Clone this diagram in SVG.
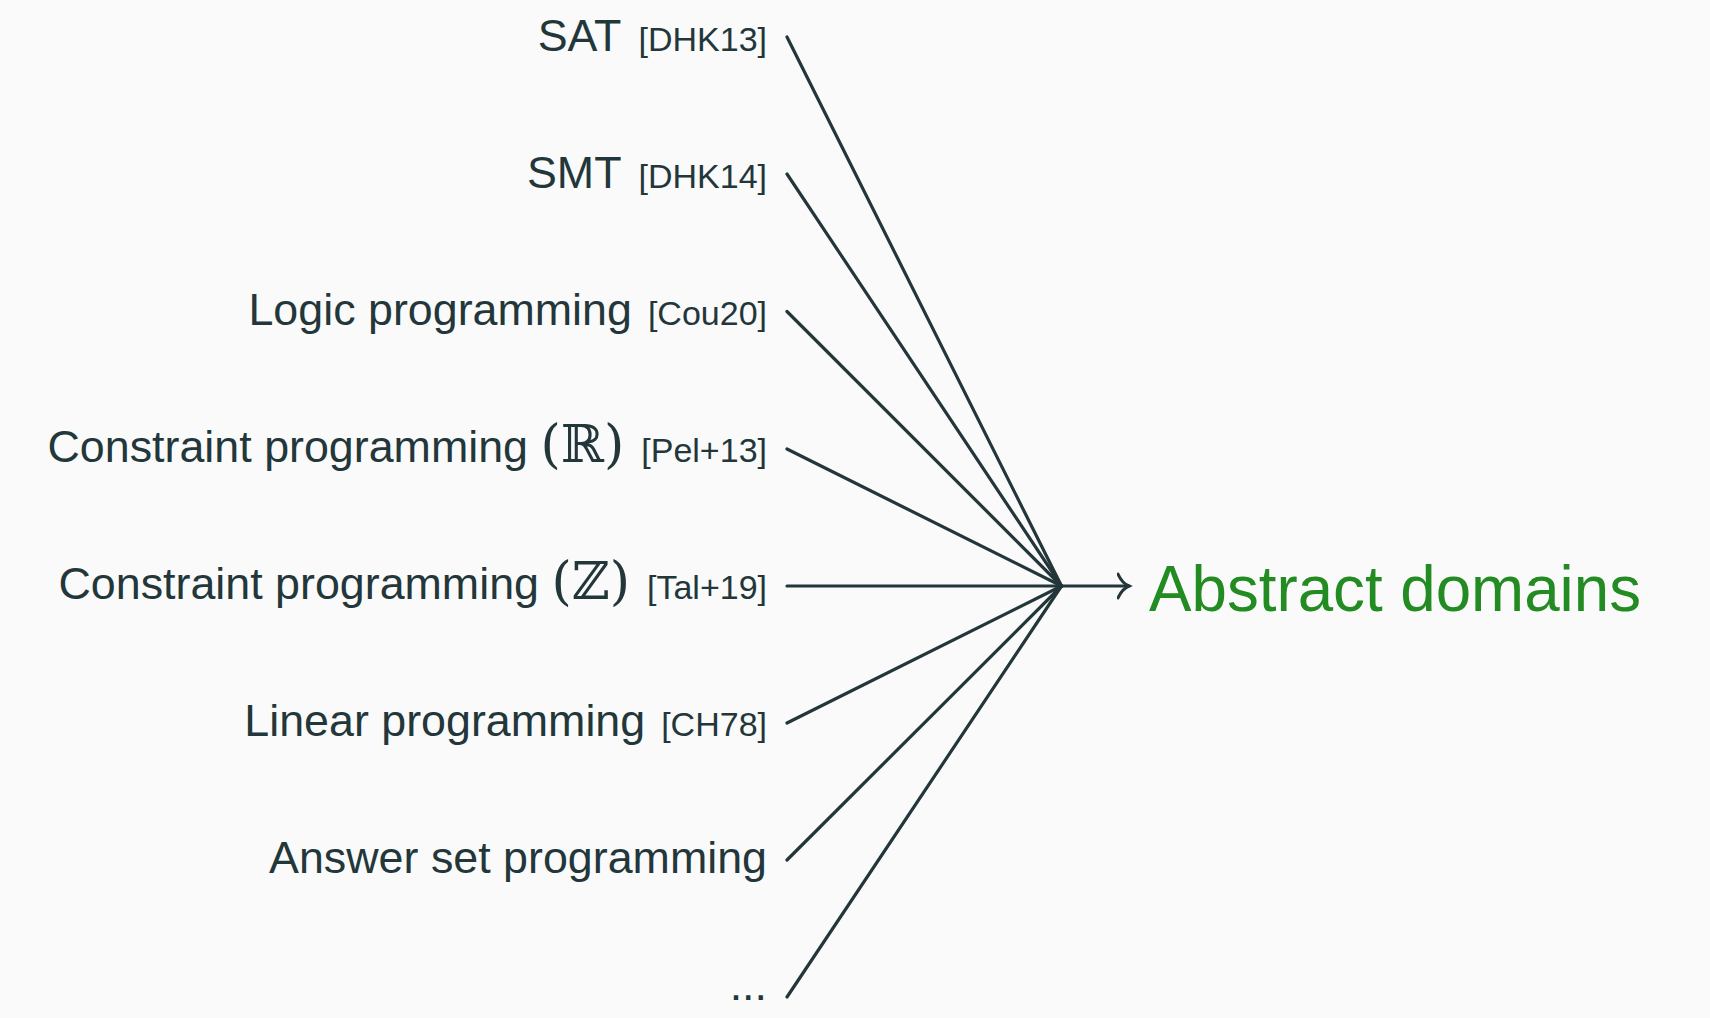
<svg xmlns="http://www.w3.org/2000/svg" width="1710" height="1018" viewBox="0 0 1710 1018">
<defs>
<style>
.lbl{font-family:"Liberation Sans","DejaVu Sans",sans-serif;font-size:44.8px;fill:#23373b;text-anchor:end}
.cite{font-size:34px}
.math{font-family:"DejaVu Serif","Liberation Serif",serif;font-size:52px}
.edge{stroke:#23373b;stroke-width:3.2;fill:none;stroke-linecap:round}
.target{font-family:"Liberation Sans","DejaVu Sans",sans-serif;font-size:64px;fill:#228b22}
</style>
<marker id="arr" markerUnits="userSpaceOnUse" markerWidth="20" markerHeight="30" refX="12" refY="13" orient="auto" viewBox="0 0 20 26">
<path d="M1,1 Q5,10 12,13 Q5,16 1,25" fill="none" stroke="#23373b" stroke-width="3" stroke-linecap="round"/>
</marker>
</defs>
<rect width="1710" height="1018" fill="#fafafa"/>
<g id="n-sat"><text class="lbl" x="767" y="51">SAT<tspan class="cite" dx="17">[DHK13]</tspan></text></g>
<g id="n-smt"><text class="lbl" x="767" y="188">SMT<tspan class="cite" dx="17">[DHK14]</tspan></text></g>
<g id="n-logic"><text class="lbl" x="767" y="325">Logic programming<tspan class="cite" dx="16">[Cou20]</tspan></text></g>
<g id="n-cpr"><text class="lbl" x="767" y="462">Constraint programming <tspan class="math">(ℝ)</tspan><tspan class="cite" dx="17">[Pel+13]</tspan></text></g>
<g id="n-cpz"><text class="lbl" x="767" y="599">Constraint programming <tspan class="math">(ℤ)</tspan><tspan class="cite" dx="17">[Tal+19]</tspan></text></g>
<g id="n-lp"><text class="lbl" x="767" y="736">Linear programming<tspan class="cite" dx="16">[CH78]</tspan></text></g>
<g id="n-asp"><text class="lbl" x="767" y="873">Answer set programming</text></g>
<g id="n-etc"><text class="lbl" x="767" y="1000">...</text></g>
<g id="n-abs"><text class="target" x="1149" y="611" textLength="492" lengthAdjust="spacingAndGlyphs">Abstract domains</text></g>
<g id="connectors">
<line class="edge" x1="787" y1="37" x2="1061.5" y2="586"/>
<line class="edge" x1="787" y1="174" x2="1061.5" y2="586"/>
<line class="edge" x1="787" y1="311.5" x2="1061.5" y2="586"/>
<line class="edge" x1="787" y1="449" x2="1061.5" y2="586"/>
<line class="edge" x1="787" y1="586" x2="1061.5" y2="586"/>
<line class="edge" x1="787" y1="723" x2="1061.5" y2="586"/>
<line class="edge" x1="787" y1="860" x2="1061.5" y2="586"/>
<line class="edge" x1="787" y1="997" x2="1061.5" y2="586"/>
<line class="edge" x1="1061.5" y1="586" x2="1129" y2="586" marker-end="url(#arr)"/>
</g>
</svg>
